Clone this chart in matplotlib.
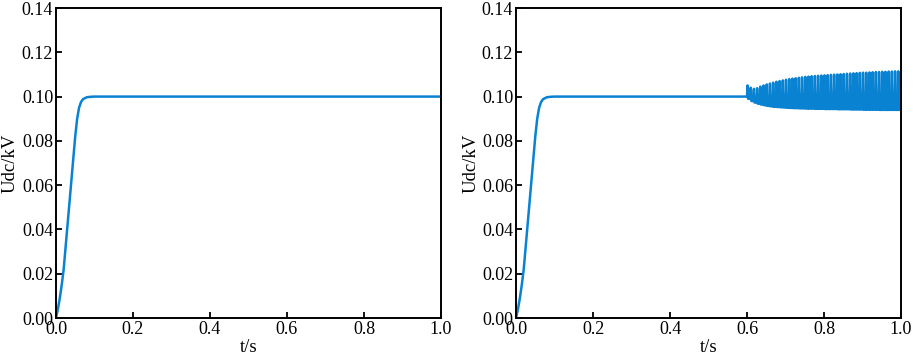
import numpy as np
import matplotlib.pyplot as plt

plt.rcParams['font.family'] = ['Liberation Serif', 'DejaVu Serif']

# start-up ramp (both cases)
t_rise = [0.0, 0.005, 0.01, 0.015, 0.02, 0.025, 0.03, 0.035, 0.04, 0.045,
          0.05, 0.055, 0.06, 0.065, 0.07, 0.08, 0.09, 0.1, 0.6]
u_rise = [0.0, 0.004, 0.009, 0.015, 0.022, 0.032, 0.042, 0.052, 0.062, 0.072,
          0.082, 0.090, 0.0950, 0.0975, 0.0988, 0.0997, 0.0999, 0.1, 0.1]

# steady part of the left case
t_left_end = [1.0]
u_left_end = [0.1]

# oscillation after t = 0.6 s in the right case (one peak / trough per cycle)
osc_start, osc_end = 0.6, 1.0
osc_peaks = [0.1050, 0.1040, 0.1035, 0.1038, 0.1045, 0.1050, 0.1055, 0.1059, 0.1063, 0.1067,
             0.1070, 0.1073, 0.1076, 0.1079, 0.1081, 0.1083, 0.1085, 0.1087, 0.1089, 0.1090,
             0.1092, 0.1093, 0.1094, 0.1095, 0.1096, 0.1097, 0.1098, 0.1099, 0.1100, 0.1101,
             0.1102, 0.1103, 0.1104, 0.1105, 0.1106, 0.1107, 0.1108, 0.1108, 0.1109, 0.1110,
             0.1111, 0.1111, 0.1112, 0.1112, 0.1113, 0.1113, 0.1114, 0.1114]
osc_troughs = [0.0990, 0.0980, 0.0973, 0.0968, 0.0964, 0.0961, 0.0958, 0.0956, 0.0954, 0.0953,
               0.0952, 0.0951, 0.0950, 0.0949, 0.0948, 0.0948, 0.0947, 0.0947, 0.0946, 0.0946,
               0.0946, 0.0945, 0.0945, 0.0945, 0.0944, 0.0944, 0.0944, 0.0944, 0.0943, 0.0943,
               0.0943, 0.0943, 0.0942, 0.0942, 0.0942, 0.0942, 0.0941, 0.0941, 0.0941, 0.0941,
               0.0941, 0.0940, 0.0940, 0.0940, 0.0940, 0.0940, 0.0940, 0.0940]

x_ticks = [0.0, 0.2, 0.4, 0.6, 0.8, 1.0]
y_ticks = [0.00, 0.02, 0.04, 0.06, 0.08, 0.10, 0.12, 0.14]

# build the curves
t_left = t_rise + t_left_end
u_left = u_rise + u_left_end

# each cycle: sharp spike up, then a longer dwell near the trough
n = len(osc_peaks)
period = (osc_end - osc_start) / n
t_osc = []
u_osc = []
for k in range(n):
    t0 = osc_start + k * period
    t_osc += [t0 + 0.15 * period, t0 + 0.35 * period, t0 + 0.95 * period]
    u_osc += [osc_peaks[k], osc_troughs[k], osc_troughs[k]]
t_right = t_rise + t_osc
u_right = u_rise + u_osc

color = '#0a82d2'

fig = plt.figure(figsize=(9.13, 3.61), dpi=100)
ax1 = fig.add_axes([0.0613, 0.1191, 0.4217, 0.8587])
ax2 = fig.add_axes([0.5652, 0.1191, 0.4217, 0.8587])

for ax, t, u in [(ax1, t_left, u_left), (ax2, t_right, u_right)]:
    ax.plot(t, u, color=color, lw=1.8)
    ax.set_xlim(0, 1.0)
    ax.set_ylim(0, 0.14)
    ax.set_xticks(x_ticks)
    ax.set_yticks(y_ticks)
    ax.set_xticklabels(['%.1f' % v for v in x_ticks])
    ax.set_yticklabels(['%.2f' % v for v in y_ticks])
    ax.tick_params(direction='in', length=4, width=1.3, labelsize=13, pad=2)
    for s in ax.spines.values():
        s.set_linewidth(1.4)
    ax.set_xlabel('t/s', fontsize=13.5, labelpad=1)
    ax.set_ylabel('Udc/kV', fontsize=13.5, labelpad=2)

fig.savefig('out.png', dpi=100)
